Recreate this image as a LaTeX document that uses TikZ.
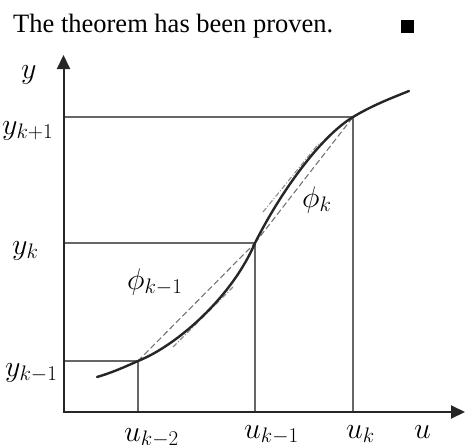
\RequirePackage{fix-cm}
\documentclass[tikz,border=0pt]{standalone}
\usepackage{fontspec}
\setmainfont{Liberation Serif}
\usetikzlibrary{arrows.meta}
\begin{document}
\begin{tikzpicture}[x=1pt,y=-1pt,
  axis/.style={draw=black!85,line width=2pt,-{Triangle[length=14pt,width=13pt]}},
  gridline/.style={draw=black!60,line width=1.5pt},
  curve/.style={draw=black!85,line width=2.4pt},
  chord/.style={draw=black!55,line width=1.1pt,dash pattern=on 6pt off 3pt},
  tang/.style={draw=black!45,line width=1.1pt,dash pattern=on 5pt off 2pt on 1pt off 2pt},
  lab/.style={anchor=base west,inner sep=0pt,font=\fontsize{30}{33}\selectfont}]
\useasboundingbox (0,0) rectangle (465,444);
% title
\node[anchor=base west,inner sep=0pt,font=\fontsize{26.5}{30}\selectfont] (title) at (13,33) {The theorem has been proven.};
\node[fill=black,minimum width=13pt,minimum height=13pt,inner sep=0pt,anchor=north west] (qed) at (401,20) {};
% key points
\coordinate (O) at (63.5,412);
\coordinate (ytop) at (63.5,55);
\coordinate (xend) at (465,412);
\coordinate (S) at (97,377);
\coordinate (P1) at (138,361);
\coordinate (P2) at (255,243);
\coordinate (P3) at (353,117);
\coordinate (E) at (409,91);
\coordinate (Y1) at (63.5,361);
\coordinate (Y2) at (63.5,243);
\coordinate (Y3) at (63.5,117);
\coordinate (U1) at (138,412);
\coordinate (U2) at (255,412);
\coordinate (U3) at (353,412);
\coordinate (T1a) at (173,347);
\coordinate (T1b) at (233,287);
\coordinate (T2a) at (263,212);
\coordinate (T2b) at (320,142);
% grid lines
\draw[gridline] (Y1) -- (P1) -- (U1);
\draw[gridline] (Y2) -- (P2) -- (U2);
\draw[gridline] (Y3) -- (P3) -- (U3);
% chords and tangents
\draw[chord] (P1) -- (P2);
\draw[chord] (P2) -- (P3);
\draw[tang] (T1a) -- (T1b);
\draw[tang] (T2a) -- (T2b);
% curve
\draw[curve,line cap=round] (S) .. controls (111,373) and (124,367.3) .. (P1)
  .. controls (177,345.4) and (232,297) .. (P2)
  .. controls (280,193) and (320,137) .. (P3)
  .. controls (372,105.6) and (390,98.6) .. (E);
% axes
\draw[axis] (O) -- (ytop);
\draw[axis] ([xshift=-1pt]O) -- (xend);
% labels
\node[lab] (ly) at (21,78) {$y$};
\node[lab] (lyk1) at (2,134) {$y_{k+1}$};
\node[lab] (lyk) at (12,254) {$y_{k}$};
\node[lab] (lykm1) at (5,376) {$y_{k-1}$};
\node[lab] (luk2) at (124,441) {$u_{k-2}$};
\node[lab] (luk1) at (244,438) {$u_{k-1}$};
\node[lab] (luk) at (346,438) {$u_{k}$};
\node[lab] (lu) at (414,438) {$u$};
\node[lab] (lphik) at (302,207) {$\phi_{k}$};
\node[lab] (lphik1) at (127,289) {$\phi_{k-1}$};
\end{tikzpicture}
\end{document}
